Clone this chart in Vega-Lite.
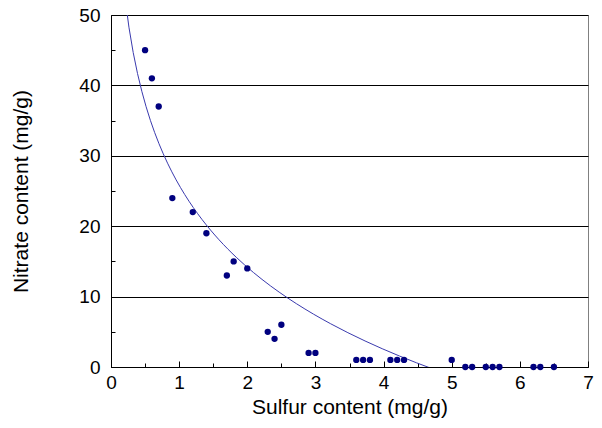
{
  "$schema": "https://vega.github.io/schema/vega-lite/v6.json",
  "autosize": {"type": "none"},
  "width": 477,
  "height": 352,
  "padding": {"left": 111, "top": 15, "right": 14, "bottom": 61},
  "background": "white",
  "config": {
    "font": "Liberation Sans",
    "view": {"stroke": "#808080", "strokeWidth": 1}
  },
  "data": {"values": [
    {"sulfur": 0.5, "nitrate": 45},
    {"sulfur": 0.6, "nitrate": 41},
    {"sulfur": 0.7, "nitrate": 37},
    {"sulfur": 0.9, "nitrate": 24},
    {"sulfur": 1.2, "nitrate": 22},
    {"sulfur": 1.4, "nitrate": 19},
    {"sulfur": 1.7, "nitrate": 13},
    {"sulfur": 1.8, "nitrate": 15},
    {"sulfur": 2.0, "nitrate": 14},
    {"sulfur": 2.3, "nitrate": 5},
    {"sulfur": 2.4, "nitrate": 4},
    {"sulfur": 2.5, "nitrate": 6},
    {"sulfur": 2.9, "nitrate": 2},
    {"sulfur": 3.0, "nitrate": 2},
    {"sulfur": 3.6, "nitrate": 1},
    {"sulfur": 3.7, "nitrate": 1},
    {"sulfur": 3.8, "nitrate": 1},
    {"sulfur": 4.1, "nitrate": 1},
    {"sulfur": 4.2, "nitrate": 1},
    {"sulfur": 4.3, "nitrate": 1},
    {"sulfur": 5.0, "nitrate": 1},
    {"sulfur": 5.2, "nitrate": 0},
    {"sulfur": 5.3, "nitrate": 0},
    {"sulfur": 5.5, "nitrate": 0},
    {"sulfur": 5.6, "nitrate": 0},
    {"sulfur": 5.7, "nitrate": 0},
    {"sulfur": 6.2, "nitrate": 0},
    {"sulfur": 6.3, "nitrate": 0},
    {"sulfur": 6.5, "nitrate": 0}
  ]},
  "encoding": {
    "x": {
      "field": "sulfur", "type": "quantitative",
      "scale": {"domain": [0, 7], "nice": false, "zero": false},
      "axis": {
        "title": "Sulfur content (mg/g)",
        "values": [0, 0.5, 1, 1.5, 2, 2.5, 3, 3.5, 4, 4.5, 5, 5.5, 6, 6.5, 7],
        "labelExpr": "datum.value % 1 === 0 ? format(datum.value, 'd') : ''",
        "grid": false,
        "domainColor": "black",
        "tickColor": "black",
        "tickSize": {"condition": {"test": "datum.value % 1 === 0", "value": -6}, "value": -4},
        "labelPadding": 12,
        "labelFontSize": 19,
        "labelColor": "black",
        "labelFlush": false,
        "labelOverlap": false,
        "titleFontSize": 21,
        "titleFontWeight": "normal",
        "titleColor": "black",
        "titlePadding": 2
      }
    },
    "y": {
      "field": "nitrate", "type": "quantitative",
      "scale": {"domain": [0, 50], "nice": false},
      "axis": {
        "title": "Nitrate content (mg/g)",
        "values": [0, 5, 10, 15, 20, 25, 30, 35, 40, 45, 50],
        "labelExpr": "datum.value % 10 === 0 ? format(datum.value, 'd') : ''",
        "grid": true,
        "gridColor": "black",
        "gridOpacity": {"condition": {"test": "datum.value % 10 === 0", "value": 1}, "value": 0},
        "domainColor": "black",
        "tickColor": "black",
        "tickSize": -4,
        "labelPadding": 15,
        "labelFontSize": 19,
        "labelColor": "black",
        "labelFlush": false,
        "labelOverlap": false,
        "titleFontSize": 21,
        "titleFontWeight": "normal",
        "titleColor": "black",
        "titlePadding": 47
      }
    }
  },
  "layer": [
    {
      "transform": [
        {"regression": "nitrate", "on": "sulfur", "method": "log", "extent": [0.2, 6.5]}
      ],
      "mark": {"type": "line", "color": "#3a3aae", "strokeWidth": 1, "clip": true}
    },
    {
      "mark": {"type": "circle", "color": "#00007f", "opacity": 1, "size": 40, "clip": false}
    }
  ]
}
